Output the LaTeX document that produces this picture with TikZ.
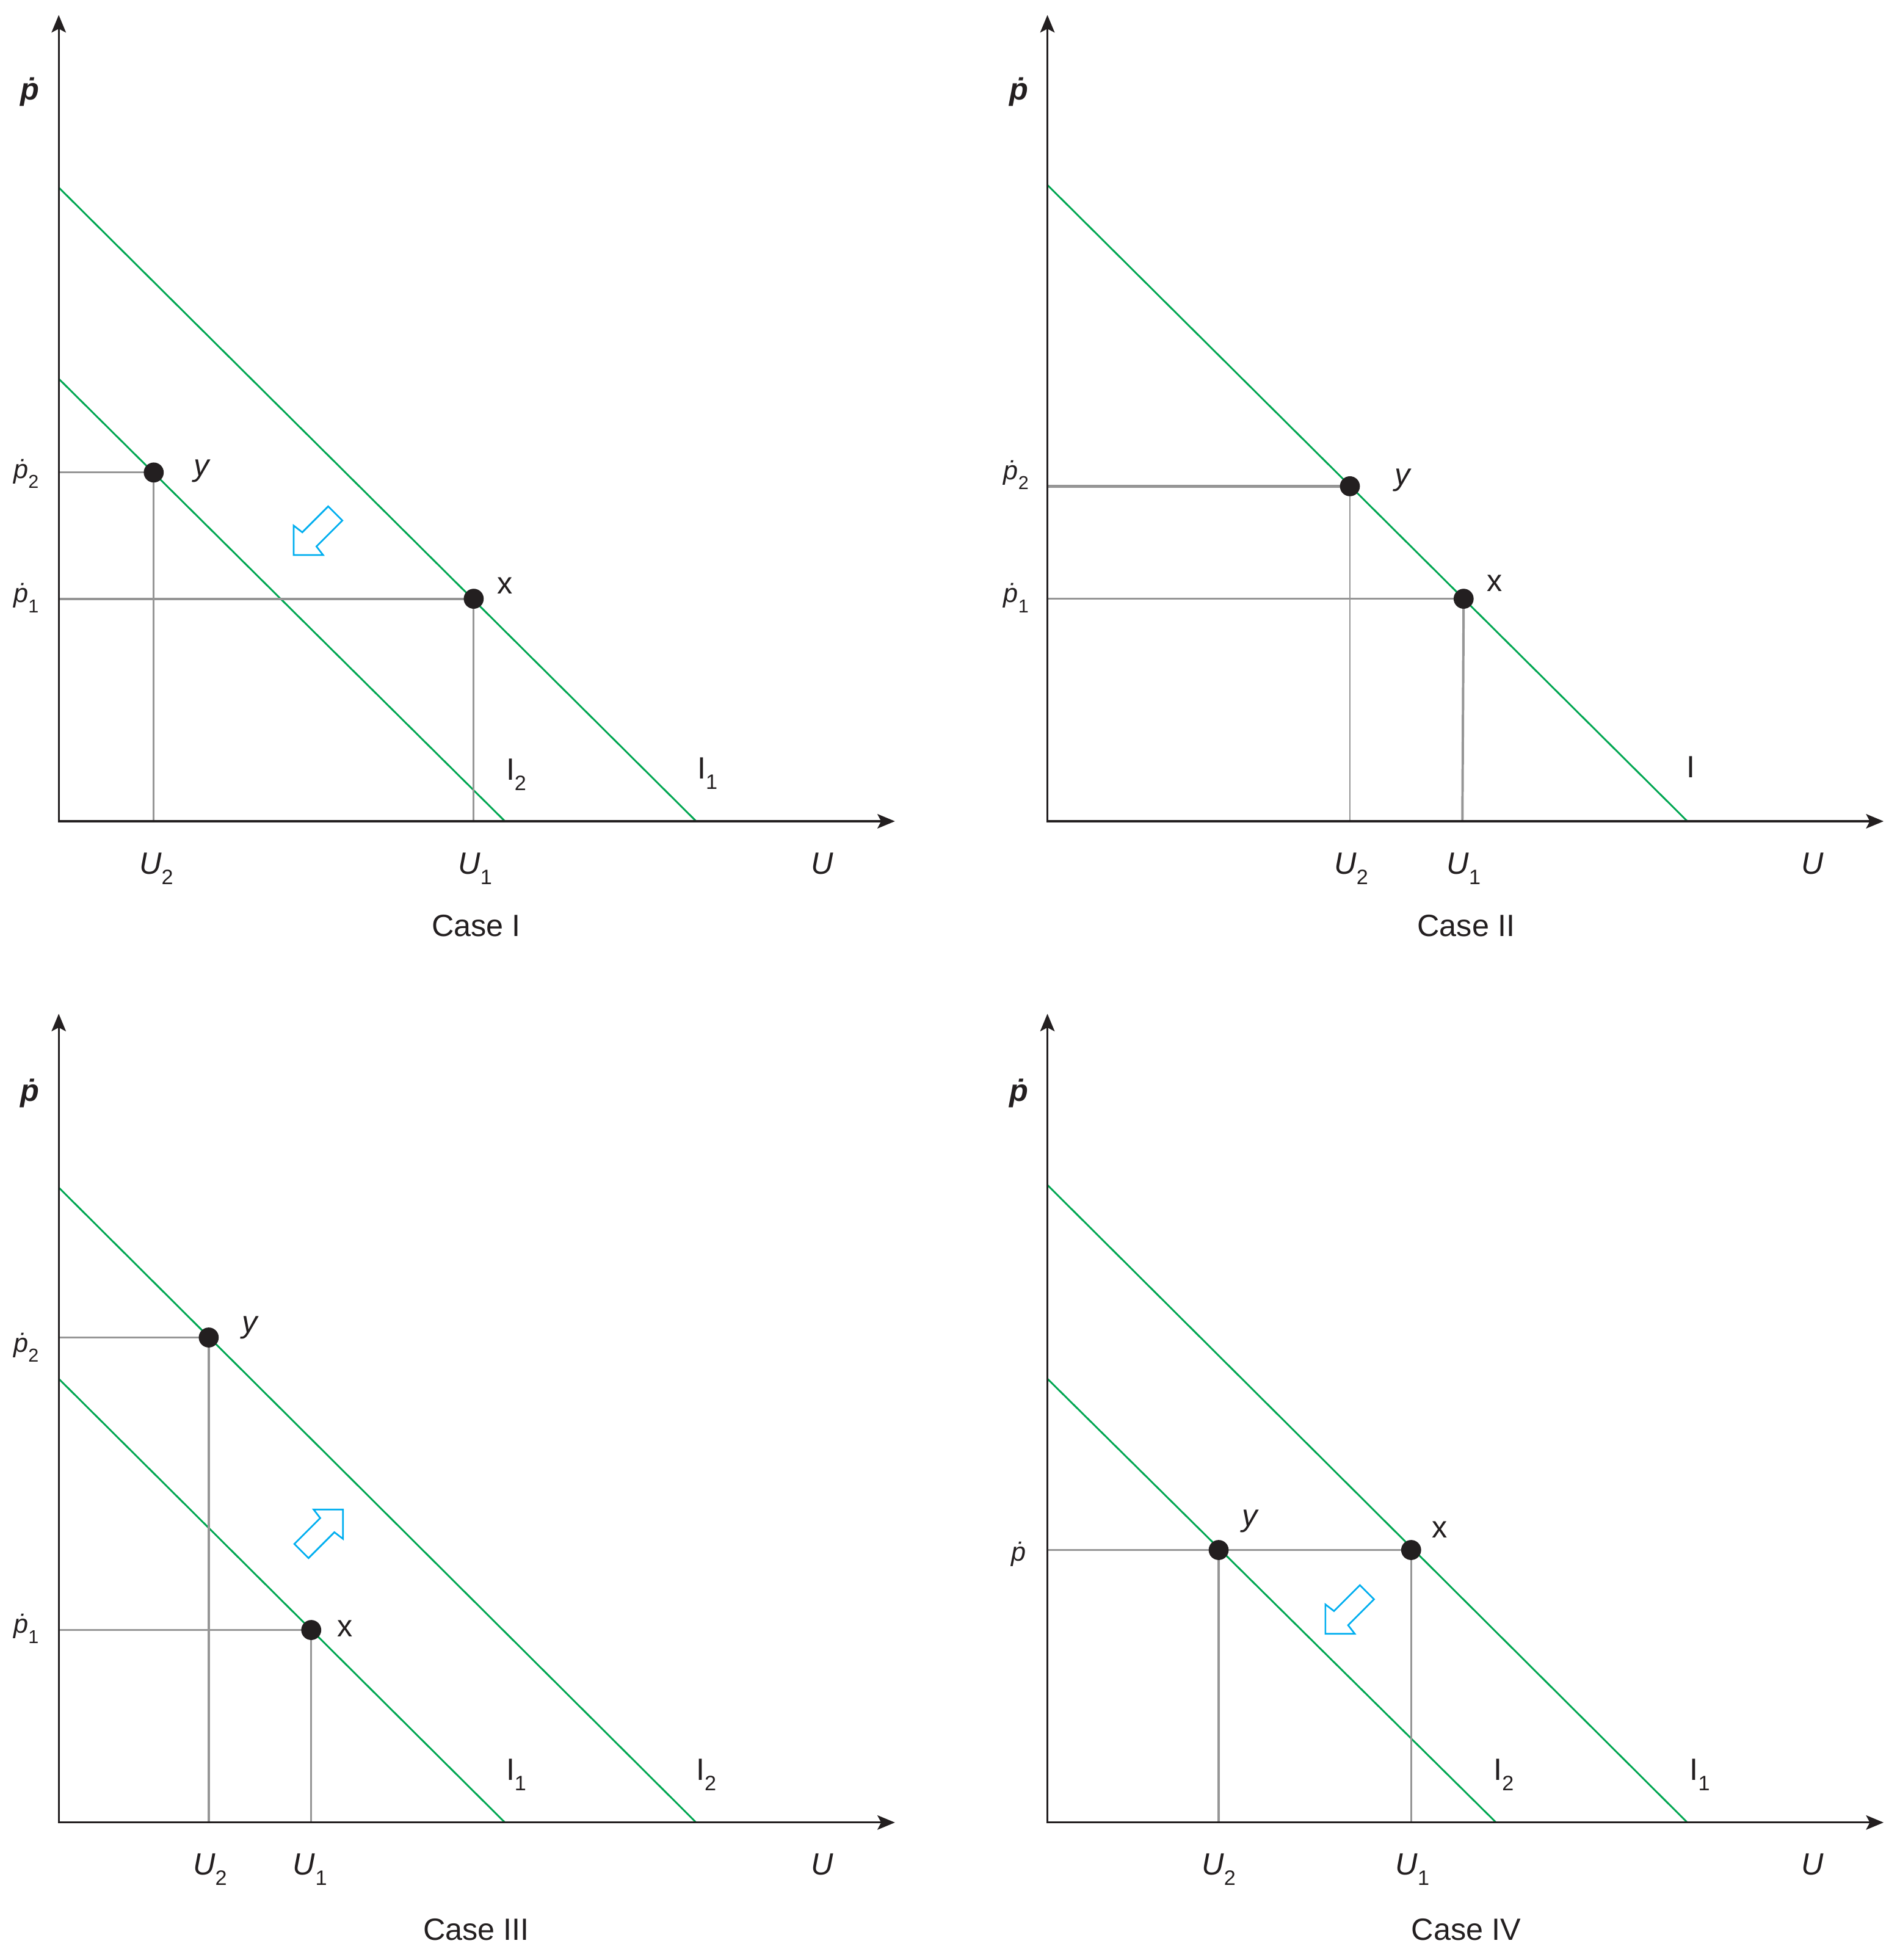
\documentclass[tikz,border=0pt]{standalone}
\usepackage{fontspec}
\setmainfont{Liberation Sans}
\usetikzlibrary{arrows.meta}
\definecolor{lgreen}{RGB}{0,166,81}
\definecolor{lblue}{RGB}{0,174,239}
\definecolor{lgray}{RGB}{150,150,150}
\definecolor{ink}{RGB}{35,31,32}
\newcommand{\pdt}{\iffontchar\font"1E57 ^^^^1e57\else\ooalign{p\cr\hidewidth\kern0.12em\raisebox{0.62em}{.}\hidewidth\cr}\fi}
\newcommand{\sbU}[1]{\raisebox{-0.34em}{\fontsize{9.5}{10}\selectfont\upshape #1}}
\newcommand{\sbP}[1]{\raisebox{-0.38em}{\fontsize{8.5}{9}\selectfont\upshape #1}}
\tikzset{
  axes/.style={draw=ink, line width=0.9pt, line join=miter,
    {Stealth[length=2.8mm,width=2.3mm,inset=0.6mm]}-{Stealth[length=2.8mm,width=2.3mm,inset=0.6mm]}},
  ind/.style={draw=lgreen, line width=0.8pt},
  guide/.style={draw=lgray, line width=0.8pt},
  dot/.style={circle, fill=ink, inner sep=0pt, minimum size=3.2mm},
  lbl/.style={inner sep=0pt, anchor=base, font=\fontsize{14}{16}\selectfont, text=ink},
  plbl/.style={inner sep=0pt, anchor=base, font=\fontsize{12}{14}\selectfont\itshape, text=ink},
  toplbl/.style={inner sep=0pt, anchor=base, font=\fontsize{14}{16}\selectfont\bfseries\itshape, text=ink},
  barrow/.style={draw=lblue, line width=0.75pt, line join=miter},
}
\begin{document}
\begin{tikzpicture}[x=0.2mm, y=0.2mm]
\useasboundingbox (0,0) rectangle (1520,-1568);

%%%%%%%%%%%%%%%% Case I
\coordinate (T1) at (47,-12);
\coordinate (O1) at (47,-657);
\coordinate (R1) at (716,-657);
\coordinate (A1a) at (47,-150);  \coordinate (A1b) at (557,-657);
\coordinate (B1a) at (47,-303);  \coordinate (B1b) at (404,-657);
\coordinate (Y1) at (123,-378);  \coordinate (X1) at (379,-479);
\coordinate (Y1l) at (47,-378);  \coordinate (Y1f) at (123,-657);
\coordinate (X1l) at (47,-479);  \coordinate (X1f) at (379,-657);
\draw[ind] (A1a) -- (A1b);
\draw[ind] (B1a) -- (B1b);
\draw[guide] (Y1l) -- (Y1);
\draw[guide] (Y1) -- (Y1f);
\draw[guide, line width=1.1pt] (X1l) -- (X1);
\draw[guide] (X1) -- (X1f);
\draw[axes] (T1) -- (O1) -- (R1);
\node[dot] (dY1) at (Y1) {};
\node[dot] (dX1) at (X1) {};
\draw[barrow, shift={(235,-444)}, rotate=225]
  (0,0) -- (-16.6,16.6) -- (-17.7,8) -- (-47,8) -- (-47,-8) -- (-17.7,-8) -- (-16.6,-16.6) -- cycle;
\node[toplbl] (p1) at (24,-80) {\pdt};
\node[plbl] (p1b) at (21,-382.5) {\pdt\sbP{2}};
\node[plbl] (p1a) at (21,-482) {\pdt\sbP{1}};
\node[lbl, font=\fontsize{14}{16}\selectfont\itshape] (ly1) at (161,-381) {y};
\node[lbl] (lx1) at (404,-475) {x};
\node[lbl] (u21) at (125,-699) {\textit{U}\sbU{2}};
\node[lbl] (u11) at (380,-699) {\textit{U}\sbU{1}};
\node[lbl] (u1) at (658,-699) {\textit{U}};
\node[lbl] (i21) at (413,-624) {I\sbU{2}};
\node[lbl] (i11) at (566,-623) {I\sbU{1}};
\node[lbl] (c1) at (381,-749) {Case I};

%%%%%%%%%%%%%%%% Case II
\coordinate (T2) at (838,-12);
\coordinate (O2) at (838,-657);
\coordinate (R2) at (1507,-657);
\coordinate (A2a) at (838,-148);  \coordinate (A2b) at (1350,-657);
\coordinate (Y2) at (1080,-389);  \coordinate (X2) at (1171,-479);
\coordinate (Y2l) at (838,-389);  \coordinate (Y2f) at (1080,-657);
\coordinate (X2l) at (838,-479);  \coordinate (X2f) at (1170,-657);
\draw[ind] (A2a) -- (A2b);
\draw[guide, line width=1.3pt] (Y2l) -- (Y2);
\draw[guide] (Y2) -- (Y2f);
\draw[guide] (X2l) -- (X2);
\draw[guide, line width=1.1pt] (X2) -- (X2f);
\draw[axes] (T2) -- (O2) -- (R2);
\node[dot] (dY2) at (Y2) {};
\node[dot] (dX2) at (X2) {};
\node[toplbl] (p2) at (815,-80) {\pdt};
\node[plbl] (p2b) at (813,-383.5) {\pdt\sbP{2}};
\node[plbl] (p2a) at (813,-482) {\pdt\sbP{1}};
\node[lbl, font=\fontsize{14}{16}\selectfont\itshape] (ly2) at (1122,-388) {y};
\node[lbl] (lx2) at (1196,-473) {x};
\node[lbl] (u22) at (1081,-699) {\textit{U}\sbU{2}};
\node[lbl] (u12) at (1171,-699) {\textit{U}\sbU{1}};
\node[lbl] (u2) at (1450,-699) {\textit{U}};
\node[lbl] (i2) at (1353,-622) {I};
\node[lbl] (c2) at (1173,-749) {Case II};

%%%%%%%%%%%%%%%% Case III
\coordinate (T3) at (47,-811);
\coordinate (O3) at (47,-1458);
\coordinate (R3) at (716,-1458);
\coordinate (A3a) at (47,-950);   \coordinate (A3b) at (557,-1458);
\coordinate (B3a) at (47,-1103);  \coordinate (B3b) at (404,-1458);
\coordinate (Y3) at (167,-1070);  \coordinate (X3) at (249,-1304);
\coordinate (Y3l) at (47,-1070);  \coordinate (Y3f) at (167,-1458);
\coordinate (X3l) at (47,-1304);  \coordinate (X3f) at (249,-1458);
\draw[ind] (A3a) -- (A3b);
\draw[ind] (B3a) -- (B3b);
\draw[guide] (Y3l) -- (Y3);
\draw[guide, line width=1.1pt] (Y3) -- (Y3f);
\draw[guide] (X3l) -- (X3);
\draw[guide] (X3) -- (X3f);
\draw[axes] (T3) -- (O3) -- (R3);
\node[dot] (dY3) at (Y3) {};
\node[dot] (dX3) at (X3) {};
\draw[barrow, shift={(274.4,-1207.6)}, rotate=45]
  (0,0) -- (-16.6,16.6) -- (-17.7,8) -- (-47,8) -- (-47,-8) -- (-17.7,-8) -- (-16.6,-16.6) -- cycle;
\node[toplbl] (p3) at (24,-881) {\pdt};
\node[plbl] (p3b) at (21,-1081.5) {\pdt\sbP{2}};
\node[plbl] (p3a) at (21,-1306.5) {\pdt\sbP{1}};
\node[lbl, font=\fontsize{14}{16}\selectfont\itshape] (ly3) at (200,-1066) {y};
\node[lbl] (lx3) at (276,-1309.5) {x};
\node[lbl] (u23) at (168,-1500) {\textit{U}\sbU{2}};
\node[lbl] (u13) at (248,-1500) {\textit{U}\sbU{1}};
\node[lbl] (u3) at (658,-1500) {\textit{U}};
\node[lbl] (i13) at (413,-1424) {I\sbU{1}};
\node[lbl] (i23) at (565,-1424) {I\sbU{2}};
\node[lbl] (c3) at (381,-1552) {Case III};

%%%%%%%%%%%%%%%% Case IV
\coordinate (T4) at (838,-811);
\coordinate (O4) at (838,-1458);
\coordinate (R4) at (1507,-1458);
\coordinate (A4a) at (838,-948);   \coordinate (A4b) at (1350,-1458);
\coordinate (B4a) at (838,-1103);  \coordinate (B4b) at (1197,-1458);
\coordinate (Y4) at (975,-1240);   \coordinate (X4) at (1129,-1240);
\coordinate (P4l) at (838,-1240);
\coordinate (Y4f) at (975,-1458);  \coordinate (X4f) at (1129,-1458);
\draw[ind] (A4a) -- (A4b);
\draw[ind] (B4a) -- (B4b);
\draw[guide] (P4l) -- (Y4);
\draw[guide] (Y4) -- (X4);
\draw[guide, line width=1.1pt] (Y4) -- (Y4f);
\draw[guide] (X4) -- (X4f);
\draw[axes] (T4) -- (O4) -- (R4);
\node[dot] (dY4) at (Y4) {};
\node[dot] (dX4) at (X4) {};
\draw[barrow, shift={(1060.4,-1307)}, rotate=225]
  (0,0) -- (-16.6,16.6) -- (-17.7,8) -- (-47,8) -- (-47,-8) -- (-17.7,-8) -- (-16.6,-16.6) -- cycle;
\node[toplbl] (p4) at (815,-881) {\pdt};
\node[plbl] (p4a) at (815,-1249) {\pdt};
\node[lbl, font=\fontsize{14}{16}\selectfont\itshape] (ly4) at (1000,-1221) {y};
\node[lbl] (lx4) at (1152,-1230) {x};
\node[lbl] (u24) at (975,-1500) {\textit{U}\sbU{2}};
\node[lbl] (u14) at (1130,-1500) {\textit{U}\sbU{1}};
\node[lbl] (u4) at (1450,-1500) {\textit{U}};
\node[lbl] (i24) at (1203,-1424) {I\sbU{2}};
\node[lbl] (i14) at (1360,-1424) {I\sbU{1}};
\node[lbl] (c4) at (1173,-1552) {Case IV};
\end{tikzpicture}
\end{document}
